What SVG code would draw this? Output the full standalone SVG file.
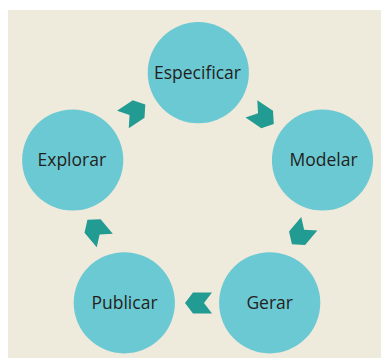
<svg xmlns="http://www.w3.org/2000/svg" width="381" height="358" viewBox="0 0 381 358">
  <style>
    .node circle { fill: #6bc9d3; }
    .node text { font-family: "Open Sans", "Liberation Sans", sans-serif; font-size: 17.5px; fill: #231f20; text-anchor: middle; }
    .arrow { fill: #229b92; }
  </style>
  <defs>
    <polygon id="chev" points="-13.5,-10.5 5.5,-10.5 13.5,0 5.5,10.5 -13.5,10.5 -5.5,0"/>
  </defs>
  <rect x="0" y="0" width="381" height="358" fill="#ffffff"/>
  <rect x="8" y="10" width="373" height="348" fill="#efebdc"/>

  <g id="connectors">
    <use href="#chev" class="arrow" transform="translate(134.1,112) rotate(-34)"/>
    <use href="#chev" class="arrow" transform="translate(262.6,116.4) rotate(34)"/>
    <use href="#chev" class="arrow" transform="translate(300.6,234) rotate(130)"/>
    <use href="#chev" class="arrow" transform="translate(198.5,303) rotate(180)"/>
    <use href="#chev" class="arrow" transform="translate(96.1,230.2) rotate(-130)"/>
  </g>

  <g id="especificar" class="node">
    <circle cx="198.3" cy="72.7" r="50.6"/>
    <text x="197.5" y="78.5">Especificar</text>
  </g>
  <g id="modelar" class="node">
    <circle cx="322.5" cy="160" r="50.6"/>
    <text x="323.5" y="165.5">Modelar</text>
  </g>
  <g id="gerar" class="node">
    <circle cx="269.7" cy="302.8" r="50.6"/>
    <text x="269.7" y="309">Gerar</text>
  </g>
  <g id="publicar" class="node">
    <circle cx="124.3" cy="302.8" r="50.6"/>
    <text x="124.5" y="309">Publicar</text>
  </g>
  <g id="explorar" class="node">
    <circle cx="72.7" cy="160" r="50.6"/>
    <text x="71.8" y="165.5">Explorar</text>
  </g>
</svg>
